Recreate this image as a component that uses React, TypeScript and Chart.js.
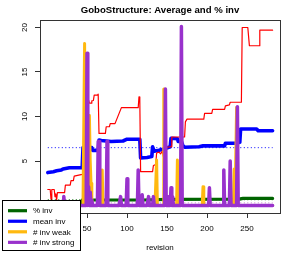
import { useEffect, useRef } from 'react';
import { Chart, registerables } from 'chart.js';

Chart.register(...registerables);

const FONT = "'Liberation Sans', Arial, Helvetica, sans-serif";

const titleText = 'GoboStructure: Average and % inv';
const xLabel = 'revision';
const xTicks = [50, 100, 150, 200, 250];
const yTicks = [5, 10, 15, 20];
const legendLabels = ['% inv', 'mean inv', '# inv weak', '# inv strong'];
const legendColors = ['#006400', '#0000FF', '#FFB90F', '#9932CC'];

const firstRev = 1;
const lastRev = 282;

// red line (step-like metric)
const redRev = [1, 4, 5, 6, 9, 10, 11, 12, 13, 22, 23, 29, 30, 33, 34, 44, 45, 46, 52, 53, 55, 56, 58, 59, 63, 64, 65, 73, 74, 78, 79, 85, 93, 114, 115, 116, 117, 132, 133, 136, 137, 140, 142, 144, 146, 147, 155, 156, 172, 173, 175, 196, 197, 206, 207, 222, 223, 228, 229, 243, 244, 251, 253, 265, 266, 282];
const redVal = [1.8, 1.8, 0.7, 1.8, 1.8, 1.0, 1.3, 0.6, 1.45, 1.45, 2.3, 2.3, 2.8, 2.8, 3.3, 3.5, 3.6, 11.85, 11.85, 11.5, 11.5, 11.75, 11.8, 12.4, 12.4, 12.5, 8.1, 8.1, 8.85, 8.85, 9.2, 9.2, 11.0, 11.0, 12.2, 11.9, 3.8, 3.8, 4.5, 4.6, 5.9, 6.0, 5.8, 6.1, 5.3, 6.5, 6.6, 7.7, 7.7, 9.4, 9.7, 9.7, 10.35, 10.35, 10.8, 10.8, 11.2, 11.3, 11.6, 11.6, 20.0, 20.0, 17.95, 17.95, 19.7, 19.7];

// mean inv (blue)
const meanRev = [1, 8, 12, 18, 20, 28, 44, 45, 56, 57, 64, 65, 68, 80, 95, 100, 116, 117, 125, 131, 132, 134, 140, 146, 154, 155, 163, 164, 168, 170, 172, 190, 195, 222, 223, 236, 241, 242, 262, 264, 282];
const meanVal = [3.7, 3.8, 3.9, 4.0, 4.1, 4.25, 4.25, 6.5, 6.5, 6.2, 6.2, 7.35, 7.3, 7.2, 7.25, 7.45, 7.45, 5.35, 5.4, 5.5, 6.6, 6.1, 6.2, 6.35, 6.6, 7.55, 7.5, 7.2, 7.2, 6.7, 6.55, 6.6, 6.7, 6.7, 7.0, 7.0, 7.1, 8.6, 8.6, 8.4, 8.4];

// % inv (green)
const pctRev = [1, 43, 44, 120, 150, 240, 245, 282];
const pctVal = [0, 0, 0.62, 0.62, 0.7, 0.72, 0.8, 0.8];

// # inv weak (orange) non-zero revisions
const weakRev = [47, 53, 54, 55, 69, 137, 146, 163, 195, 234, 237];
const weakVal = [18.2, 10.1, 5.0, 2.5, 4.0, 5.1, 13.1, 5.1, 2.1, 4.1, 11.0];

// # inv strong (purple) non-zero revisions
const strongRev = [21, 50, 52, 54, 56, 64, 65, 75, 92, 100, 114, 119, 127, 133, 148, 151, 155, 157, 168, 203, 221, 229, 238];
const strongVal = [1.0, 17.1, 2.1, 1.5, 0.6, 7.2, 7.2, 7.2, 1.0, 3.0, 4.0, 1.2, 1.0, 1.0, 13.1, 1.0, 2.0, 1.0, 20.1, 2.0, 4.0, 5.0, 11.1];

// averages (dotted reference lines)
const meanAvg = 6.5;
const pctAvg = 0.65;
const strongAvg = 0.3;

function pts(revs: number[], vals: number[]) {
  return revs.map((r, i) => ({ x: r, y: vals[i] }));
}

function fullSeries(revs: number[], vals: number[]) {
  const out: { x: number; y: number }[] = [];
  for (let r = firstRev; r <= lastRev; r++) {
    const k = revs.indexOf(r);
    out.push({ x: r, y: k >= 0 ? vals[k] : 0 });
  }
  return out;
}

function hline(v: number) {
  return [{ x: firstRev, y: v }, { x: lastRev, y: v }];
}

const decorPlugin = {
  id: 'decor',
  afterDraw(chart: any) {
    const { ctx, chartArea: a } = chart;
    ctx.save();
    // frame
    ctx.strokeStyle = '#333';
    ctx.lineWidth = 1;
    ctx.strokeRect(a.left + 0.5, a.top + 0.5, a.right - a.left, a.bottom - a.top);
    // title
    ctx.fillStyle = '#000';
    ctx.font = `bold 9.6px ${FONT}`;
    ctx.textAlign = 'center';
    ctx.textBaseline = 'middle';
    ctx.fillText(titleText, (a.left + a.right) / 2, 10);
    // legend
    const lx = 2.5, ly = 200.5, lw = 78, lh = 50;
    ctx.fillStyle = '#fff';
    ctx.fillRect(lx, ly, lw, lh);
    ctx.strokeStyle = '#000';
    ctx.lineWidth = 1;
    ctx.strokeRect(lx, ly, lw, lh);
    ctx.font = `8px ${FONT}`;
    ctx.textAlign = 'left';
    legendLabels.forEach((lab, i) => {
      const y = 210.7 + i * 10.55;
      ctx.strokeStyle = legendColors[i];
      ctx.lineWidth = 3.2;
      ctx.lineCap = 'butt';
      ctx.beginPath();
      ctx.moveTo(8, y);
      ctx.lineTo(27, y);
      ctx.stroke();
      ctx.fillStyle = '#000';
      ctx.fillText(lab, 33, y + 0.5);
    });
    ctx.restore();
  },
};

export default function App() {
  const ref = useRef<HTMLCanvasElement>(null);
  useEffect(() => {
    if (!ref.current) return;
    const common = { pointRadius: 0, tension: 0, borderJoinStyle: 'round' as const, borderCapStyle: 'round' as const, fill: false };
    const chart = new Chart(ref.current, {
      type: 'line',
      data: {
        datasets: [
          { label: '# inv strong', data: fullSeries(strongRev, strongVal), borderColor: '#9932CC', borderWidth: 3.5, ...common },
          { label: '# inv weak', data: fullSeries(weakRev, weakVal), borderColor: '#FFB90F', borderWidth: 3, ...common },
          { label: 'strong avg', data: hline(strongAvg), borderColor: '#C878D0', borderWidth: 1, borderDash: [1, 2.5], ...common, borderCapStyle: 'butt' },
          { label: '% inv', data: pts(pctRev, pctVal), borderColor: '#006400', borderWidth: 3.2, ...common },
          { label: '% avg', data: hline(pctAvg), borderColor: '#006400', borderWidth: 1, borderDash: [1, 2.5], ...common, borderCapStyle: 'butt' },
          { label: 'red', data: pts(redRev, redVal), borderColor: '#FF0000', borderWidth: 1.2, ...common },
          { label: 'mean inv', data: pts(meanRev, meanVal), borderColor: '#0000FF', borderWidth: 3.6, ...common },
          { label: 'mean avg', data: hline(meanAvg), borderColor: '#0000FF', borderWidth: 1, borderDash: [1, 2.5], ...common, borderCapStyle: 'butt' },
        ],
      },
      options: {
        responsive: false,
        animation: false,
        devicePixelRatio: 1,
        layout: { padding: { top: 20, right: 14, left: 0, bottom: 0 } },
        plugins: { legend: { display: false }, title: { display: false }, tooltip: { enabled: false } },
        font: { family: FONT },
        scales: {
          x: {
            type: 'linear',
            min: -8.75,
            max: 291.25,
            afterBuildTicks: (s: any) => { s.ticks = xTicks.map((v) => ({ value: v })); },
            afterFit: (s: any) => { s.height = 41; },
            grid: { display: true, drawOnChartArea: false, drawTicks: true, tickLength: 5, color: '#333', lineWidth: 1 },
            border: { display: false },
            ticks: { color: '#000', font: { size: 8, family: FONT }, padding: 6, maxRotation: 0, autoSkip: false },
            title: { display: true, text: xLabel, color: '#000', font: { size: 8, family: FONT }, padding: { top: 0, bottom: 1 } },
          },
          y: {
            type: 'linear',
            min: -0.84,
            max: 20.84,
            afterBuildTicks: (s: any) => { s.ticks = yTicks.map((v) => ({ value: v })); },
            afterFit: (s: any) => { s.width = 40; },
            grid: { display: true, drawOnChartArea: false, drawTicks: true, tickLength: 5, color: '#333', lineWidth: 1 },
            border: { display: false },
            ticks: { color: '#000', font: { size: 8, family: FONT }, padding: 5.5, minRotation: 90, maxRotation: 90, crossAlign: 'center', autoSkip: false },
          },
        },
      },
      plugins: [decorPlugin],
    } as any);
    return () => chart.destroy();
  }, []);
  return (
    <div style={{ position: 'absolute', left: 0, top: 0, width: 294, height: 254, background: '#fff' }}>
      <canvas ref={ref} width={294} height={254} style={{ width: 294, height: 254 }} />
    </div>
  );
}
